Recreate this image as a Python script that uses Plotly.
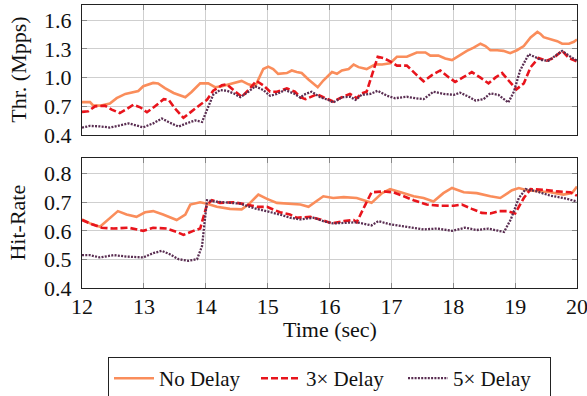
import plotly.graph_objects as go
from plotly.subplots import make_subplots

# ---------------- data ----------------
# Throughput (Mpps)
thr_nodelay_t = [12.0, 12.13, 12.18, 12.29, 12.45, 12.56, 12.7, 12.83, 12.91, 12.99, 13.15, 13.23, 13.34, 13.48, 13.58, 13.67, 13.77, 13.91, 14.04, 14.15, 14.26, 14.45, 14.58, 14.69, 14.8, 14.93, 15.01, 15.09, 15.17, 15.31, 15.39, 15.47, 15.55, 15.66, 15.74, 15.81, 15.9, 16.04, 16.12, 16.2, 16.31, 16.39, 16.47, 16.6, 16.74, 16.85, 16.98, 17.09, 17.25, 17.41, 17.55, 17.63, 17.76, 17.87, 17.98, 18.09, 18.22, 18.33, 18.44, 18.52, 18.6, 18.71, 18.81, 18.92, 19.03, 19.14, 19.25, 19.36, 19.41, 19.46, 19.57, 19.68, 19.76, 19.87, 19.95, 20.0]
thr_nodelay = [0.744, 0.744, 0.71, 0.707, 0.73, 0.785, 0.83, 0.85, 0.86, 0.91, 0.945, 0.94, 0.89, 0.84, 0.82, 0.795, 0.85, 0.94, 0.94, 0.9, 0.91, 0.945, 0.966, 0.93, 0.91, 1.09, 1.115, 1.09, 1.04, 1.048, 1.075, 1.06, 1.048, 0.98, 0.94, 0.9, 0.97, 1.058, 1.04, 1.075, 1.09, 1.137, 1.11, 1.09, 1.14, 1.137, 1.15, 1.218, 1.218, 1.263, 1.263, 1.23, 1.23, 1.2, 1.184, 1.23, 1.28, 1.314, 1.355, 1.33, 1.287, 1.287, 1.28, 1.256, 1.287, 1.33, 1.42, 1.478, 1.457, 1.423, 1.4, 1.382, 1.355, 1.355, 1.375, 1.4]

thr_3x_t = [12.0, 12.1, 12.21, 12.37, 12.48, 12.61, 12.72, 12.83, 12.94, 13.05, 13.18, 13.32, 13.4, 13.5, 13.64, 13.77, 13.91, 14.02, 14.12, 14.26, 14.34, 14.45, 14.58, 14.69, 14.82, 14.93, 15.04, 15.15, 15.31, 15.44, 15.53, 15.61, 15.69, 15.8, 15.9, 16.06, 16.2, 16.33, 16.44, 16.52, 16.6, 16.68, 16.78, 16.87, 16.98, 17.09, 17.25, 17.39, 17.52, 17.65, 17.79, 17.92, 18.03, 18.17, 18.3, 18.44, 18.57, 18.68, 18.79, 18.89, 19.02, 19.14, 19.25, 19.38, 19.51, 19.62, 19.76, 19.87, 20.0]
thr_3x = [0.642, 0.648, 0.7, 0.707, 0.666, 0.63, 0.67, 0.717, 0.69, 0.638, 0.7, 0.775, 0.768, 0.68, 0.58, 0.648, 0.717, 0.768, 0.863, 0.92, 0.93, 0.87, 0.8, 0.87, 0.966, 0.92, 0.853, 0.853, 0.887, 0.853, 0.795, 0.775, 0.795, 0.826, 0.795, 0.75, 0.795, 0.83, 0.785, 0.836, 0.853, 1.024, 1.218, 1.205, 1.17, 1.126, 1.126, 1.04, 0.962, 1.024, 1.075, 1.007, 0.956, 1.007, 1.058, 1.0, 0.94, 1.0, 1.048, 0.973, 0.877, 0.94, 1.109, 1.205, 1.177, 1.205, 1.28, 1.205, 1.17]

thr_5x_t = [12.0, 12.13, 12.29, 12.45, 12.61, 12.75, 12.88, 12.99, 13.15, 13.29, 13.42, 13.56, 13.69, 13.83, 13.94, 14.02, 14.12, 14.23, 14.34, 14.45, 14.56, 14.69, 14.8, 14.93, 15.04, 15.15, 15.28, 15.42, 15.53, 15.58, 15.71, 15.85, 15.98, 16.06, 16.2, 16.33, 16.42, 16.52, 16.66, 16.78, 16.93, 17.06, 17.25, 17.39, 17.52, 17.68, 17.84, 18.01, 18.11, 18.25, 18.36, 18.49, 18.6, 18.73, 18.89, 18.98, 19.08, 19.22, 19.33, 19.43, 19.54, 19.68, 19.76, 19.87, 20.0]
thr_5x = [0.478, 0.495, 0.49, 0.478, 0.5, 0.522, 0.5, 0.48, 0.522, 0.573, 0.529, 0.488, 0.522, 0.553, 0.536, 0.666, 0.82, 0.87, 0.863, 0.836, 0.795, 0.853, 0.91, 0.87, 0.81, 0.83, 0.87, 0.836, 0.79, 0.82, 0.853, 0.795, 0.768, 0.74, 0.795, 0.8, 0.768, 0.82, 0.83, 0.863, 0.81, 0.785, 0.8, 0.785, 0.775, 0.853, 0.83, 0.82, 0.843, 0.8, 0.76, 0.775, 0.836, 0.82, 0.74, 0.853, 1.075, 1.245, 1.21, 1.184, 1.177, 1.245, 1.28, 1.23, 1.177]

# Hit-rate
hit_nodelay_t = [12.0, 12.13, 12.29, 12.45, 12.58, 12.72, 12.88, 13.02, 13.15, 13.31, 13.53, 13.67, 13.75, 13.91, 14.02, 14.18, 14.39, 14.58, 14.69, 14.85, 14.99, 15.15, 15.36, 15.53, 15.66, 15.9, 16.06, 16.23, 16.44, 16.68, 16.85, 16.98, 17.15, 17.36, 17.52, 17.68, 17.84, 17.98, 18.17, 18.38, 18.6, 18.76, 18.95, 19.06, 19.19, 19.35, 19.57, 19.78, 19.92, 20.0]
hit_nodelay = [0.64, 0.626, 0.614, 0.646, 0.669, 0.657, 0.649, 0.665, 0.669, 0.657, 0.638, 0.657, 0.692, 0.7, 0.695, 0.684, 0.677, 0.675, 0.692, 0.727, 0.712, 0.698, 0.695, 0.692, 0.684, 0.721, 0.715, 0.718, 0.715, 0.698, 0.732, 0.746, 0.735, 0.721, 0.715, 0.703, 0.732, 0.75, 0.735, 0.732, 0.721, 0.715, 0.742, 0.75, 0.742, 0.738, 0.735, 0.727, 0.732, 0.755]

hit_3x_t = [12.0, 12.16, 12.32, 12.51, 12.75, 12.99, 13.15, 13.37, 13.53, 13.64, 13.8, 13.91, 14.02, 14.1, 14.23, 14.45, 14.66, 14.83, 14.99, 15.2, 15.36, 15.47, 15.69, 15.85, 16.04, 16.23, 16.39, 16.44, 16.58, 16.68, 16.87, 17.03, 17.2, 17.36, 17.57, 17.79, 18.01, 18.14, 18.3, 18.46, 18.6, 18.73, 18.87, 19.0, 19.14, 19.25, 19.46, 19.68, 19.89, 20.0]
hit_3x = [0.638, 0.623, 0.611, 0.608, 0.611, 0.6, 0.611, 0.608, 0.596, 0.586, 0.6, 0.608, 0.692, 0.707, 0.698, 0.7, 0.692, 0.684, 0.684, 0.665, 0.657, 0.646, 0.649, 0.64, 0.626, 0.634, 0.638, 0.63, 0.692, 0.735, 0.738, 0.735, 0.721, 0.707, 0.692, 0.688, 0.688, 0.692, 0.677, 0.663, 0.661, 0.669, 0.669, 0.661, 0.715, 0.746, 0.744, 0.738, 0.735, 0.723]

hit_5x_t = [12.0, 12.13, 12.29, 12.51, 12.72, 12.99, 13.15, 13.29, 13.42, 13.56, 13.72, 13.86, 13.94, 14.02, 14.13, 14.34, 14.56, 14.77, 14.99, 15.2, 15.36, 15.53, 15.74, 15.9, 16.06, 16.31, 16.44, 16.68, 16.79, 16.98, 17.25, 17.52, 17.74, 17.98, 18.19, 18.38, 18.57, 18.82, 18.93, 19.06, 19.17, 19.35, 19.57, 19.78, 20.0]
hit_5x = [0.515, 0.515, 0.507, 0.515, 0.51, 0.507, 0.522, 0.53, 0.518, 0.501, 0.495, 0.501, 0.547, 0.707, 0.703, 0.698, 0.695, 0.68, 0.669, 0.657, 0.646, 0.64, 0.646, 0.634, 0.626, 0.628, 0.63, 0.619, 0.634, 0.623, 0.614, 0.605, 0.608, 0.6, 0.611, 0.603, 0.608, 0.596, 0.64, 0.715, 0.746, 0.738, 0.723, 0.715, 0.703]

series_names = ["No Delay", "3\u00d7 Delay", "5\u00d7 Delay"]
x_ticks = [12, 13, 14, 15, 16, 17, 18, 19, 20]
thr_ticks = [0.4, 0.7, 1.0, 1.3, 1.6]
hit_ticks = [0.4, 0.5, 0.6, 0.7, 0.8]

# ---------------- styles ----------------
COLORS = ["#FA8D5B", "#E8141C", "#5A2E52"]
DASHES = ["solid", "7px,3px", "2px,1.3px"]
WIDTHS = [2.6, 2.6, 2.3]
FONT = "Liberation Serif, Times New Roman, serif"
FS = 22

fig = make_subplots(rows=2, cols=1, shared_xaxes=False, vertical_spacing=0.0)

thr_data = [(thr_nodelay_t, thr_nodelay), (thr_3x_t, thr_3x), (thr_5x_t, thr_5x)]
hit_data = [(hit_nodelay_t, hit_nodelay), (hit_3x_t, hit_3x), (hit_5x_t, hit_5x)]

for i, (t, v) in enumerate(thr_data):
    fig.add_trace(go.Scatter(x=t, y=v, mode="lines", name=series_names[i],
                             line=dict(color=COLORS[i], dash=DASHES[i], width=WIDTHS[i]),
                             showlegend=True, legendrank=i), row=1, col=1)
for i, (t, v) in enumerate(hit_data):
    fig.add_trace(go.Scatter(x=t, y=v, mode="lines", name=series_names[i],
                             line=dict(color=COLORS[i], dash=DASHES[i], width=WIDTHS[i]),
                             showlegend=False), row=2, col=1)

axis_common = dict(showgrid=True, gridcolor="#CFCFCF", gridwidth=1,
                   showline=True, linecolor="#222222", linewidth=1.3, mirror="allticks",
                   ticks="inside", ticklen=5, tickcolor="#888888", tickwidth=1.3,
                   zeroline=False, ticklabeloverflow="allow",
                   tickfont=dict(family=FONT, size=FS, color="#111111"))

fig.update_xaxes(**axis_common, range=[12, 20], tickvals=x_ticks, ticklabelstandoff=-2)
fig.update_xaxes(showticklabels=False, row=1, col=1)
fig.update_xaxes(showticklabels=True, row=2, col=1)
fig.update_yaxes(**axis_common, ticklabelstandoff=5)
fig.update_yaxes(range=[0.4, 1.76], tickvals=thr_ticks, tickformat=".1f", row=1, col=1)
fig.update_yaxes(range=[0.4, 0.855], tickvals=hit_ticks, tickformat=".1f", row=2, col=1)

fig.update_layout(
    width=587, height=396,
    margin=dict(l=82, r=10, t=5, b=108, autoexpand=False),
    plot_bgcolor="white", paper_bgcolor="white",
    font=dict(family=FONT, size=FS, color="#111111"),
    legend=dict(orientation="h", x=0.5, xanchor="center", y=-0.244, yanchor="top",
                bordercolor="#222222", borderwidth=1, bgcolor="white",
                font=dict(family=FONT, size=21), itemwidth=40, entrywidth=92,
                tracegroupgap=0),
    annotations=[
        dict(text="Thr. (Mpps)", textangle=-90, xref="paper", yref="paper",
             x=-0.13, y=0.77, xanchor="center", yanchor="middle", showarrow=False,
             font=dict(family=FONT, size=FS, color="#111111")),
        dict(text="Hit-Rate", textangle=-90, xref="paper", yref="paper",
             x=-0.13, y=0.23, xanchor="center", yanchor="middle", showarrow=False,
             font=dict(family=FONT, size=FS, color="#111111")),
        dict(text="Time (sec)", xref="paper", yref="paper",
             x=0.5, y=-0.148, xanchor="center", yanchor="middle", showarrow=False,
             font=dict(family=FONT, size=FS, color="#111111")),
    ],
)

fig.layout.yaxis.domain = [0.5406, 1.0]
fig.layout.yaxis2.domain = [0.0, 0.4594]

fig.write_html("out.html")
